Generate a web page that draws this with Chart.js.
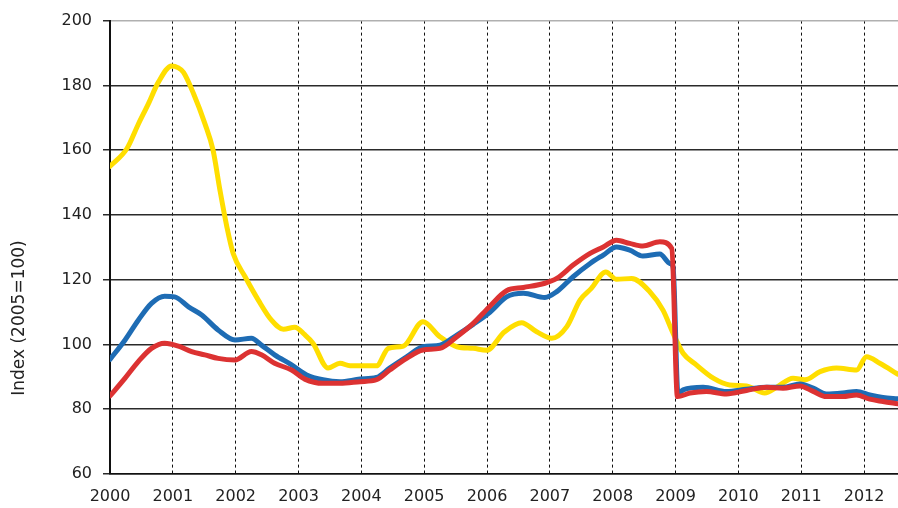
<!DOCTYPE html>
<html>
<head>
<meta charset="utf-8">
<script src="https://cdn.jsdelivr.net/npm/chart.js@4/dist/chart.umd.min.js"></script>
<style>
    body { margin: 0; background: #fff; }
    #wrap { width: 898px; height: 508px; position: relative; }
</style>
</head>
<body>
<div id="wrap"><canvas id="chart"></canvas></div>
<script>
// x tick labels (years) and y title
const yearTicks = [2000, 2001, 2002, 2003, 2004, 2005, 2006, 2007, 2008, 2009, 2010, 2011, 2012];
const axisTitle = 'Index (2005=100)';

// yellow series
const yellowYears = [2000.00, 2000.27, 2000.45, 2000.61, 2000.77, 2000.98, 2001.08, 2001.17, 2001.33, 2001.51,
    2001.64, 2001.75, 2001.86, 2001.96, 2002.15, 2002.36, 2002.57, 2002.76, 2002.94, 2003.10,
    2003.23, 2003.47, 2003.66, 2003.82, 2004.24, 2004.43, 2004.67, 2004.98, 2005.25, 2005.52,
    2005.78, 2005.99, 2006.28, 2006.55, 2006.79, 2007.03, 2007.27, 2007.48, 2007.66, 2007.89,
    2008.06, 2008.30, 2008.59, 2008.80, 2008.96, 2009.12, 2009.33, 2009.60, 2009.86, 2010.13,
    2010.42, 2010.61, 2010.87, 2011.06, 2011.30, 2011.56, 2011.88, 2012.04, 2012.25, 2012.54];
const yellowValues = [155, 160.5, 168, 174.3, 181, 186, 185.5, 184, 177.4, 168.2,
    160, 147.6, 136.3, 128.1, 120.9, 113.7, 107.5, 104.7, 105.3, 103,
    100.4, 92.7, 94.2, 93.4, 93.4, 98.8, 99.5, 107, 102.4, 99.3,
    98.8, 98.2, 103.9, 106.7, 103.9, 101.9, 105.5, 113.7, 117.3, 122.4,
    120.1, 120.4, 116.3, 110.6, 103.5, 97.3, 93.7, 89.6, 87.5, 87.2,
    85.0, 86.8, 89.6, 89.1, 91.6, 92.7, 92.1, 96.2, 94.2, 90.8];

// blue series
const blueYears = [2000.00, 2000.24, 2000.45, 2000.66, 2000.87, 2001.03, 2001.25, 2001.46, 2001.72, 2001.99,
    2002.25, 2002.41, 2002.62, 2002.89, 2003.13, 2003.39, 2003.66, 2003.98, 2004.24, 2004.45,
    2004.72, 2004.98, 2005.25, 2005.52, 2005.78, 2006.05, 2006.31, 2006.58, 2006.92, 2007.11,
    2007.37, 2007.64, 2007.85, 2008.06, 2008.27, 2008.48, 2008.75, 2008.91, 2008.96, 2009.04,
    2009.12, 2009.44, 2009.81, 2010.13, 2010.45, 2010.71, 2010.98, 2011.19, 2011.40, 2011.66,
    2011.88, 2012.09, 2012.30, 2012.54];
const blueValues = [95.4, 101.4, 107.5, 112.7, 114.9, 114.7, 111.6, 109.1, 104.5, 101.4,
    101.9, 99.8, 96.8, 93.7, 90.6, 89.1, 88.5, 89.3, 89.8, 92.7,
    96.2, 99.3, 99.8, 102.9, 106.2, 110, 114.7, 115.8, 114.5, 116.3,
    120.9, 125, 127.6, 130.1, 129.1, 127.3, 127.9, 125, 124, 84.5,
    86, 86.8, 85.5, 86.2, 86.8, 86.8, 87.8, 86.5, 84.7, 85.0,
    85.5, 84.4, 83.6, 83.2];

// red series
const redYears = [2000.00, 2000.24, 2000.45, 2000.66, 2000.87, 2001.09, 2001.30, 2001.51, 2001.72, 2001.99,
    2002.25, 2002.41, 2002.62, 2002.89, 2003.10, 2003.39, 2003.66, 2003.98, 2004.24, 2004.45,
    2004.72, 2004.98, 2005.25, 2005.52, 2005.78, 2006.03, 2006.31, 2006.58, 2006.92, 2007.11,
    2007.37, 2007.64, 2007.85, 2008.06, 2008.27, 2008.48, 2008.75, 2008.94, 2009.03, 2009.23,
    2009.49, 2009.81, 2010.13, 2010.45, 2010.71, 2010.98, 2011.19, 2011.40, 2011.66, 2011.88,
    2012.09, 2012.30, 2012.54];
const redValues = [84.1, 89.6, 94.7, 98.8, 100.4, 99.5, 97.8, 96.8, 95.7, 95.2,
    97.8, 96.8, 94.2, 92.1, 89.3, 88.0, 88.0, 88.5, 89.1, 92.1,
    95.7, 98.3, 98.8, 102.4, 106.5, 111.5, 116.6, 117.6, 118.9, 120.4,
    124.5, 128.1, 130.1, 132.2, 131.2, 130.4, 131.7, 129.6, 83.9, 85,
    85.5, 84.7, 85.8, 86.8, 86.5, 87.2, 85.5, 83.9, 83.9, 84.4,
    83.1, 82.4, 81.7];

function toPoints(xs, ys) {
    return xs.map((x, i) => ({x: x, y: ys[i]}));
}

function lineSet(xs, ys, color) {
    return {
        data: toPoints(xs, ys),
        borderColor: color,
        borderWidth: 5,
        pointRadius: 0,
        cubicInterpolationMode: 'monotone',
        borderJoinStyle: 'round',
        borderCapStyle: 'round'
    };
}

// draws the rotated y title a bit below the middle, like the original
const yTitlePlugin = {
    id: 'yTitle',
    afterDraw(chart) {
        const ctx = chart.ctx;
        ctx.save();
        ctx.translate(20, 318);
        ctx.rotate(-Math.PI / 2);
        ctx.font = '17px "DejaVu Sans"';
        ctx.fillStyle = '#222';
        ctx.textAlign = 'center';
        ctx.textBaseline = 'middle';
        ctx.fillText(axisTitle, 0, 0);
        ctx.restore();
    }
};

const tickFont = {family: '"DejaVu Sans", sans-serif', size: 16};

const config = {
    type: 'line',
    data: {
        datasets: [
            lineSet(redYears, redValues, 'rgb(220, 50, 50)'),
            lineSet(blueYears, blueValues, 'rgb(30, 108, 180)'),
            lineSet(yellowYears, yellowValues, 'rgb(255, 222, 0)')
        ]
    },
    options: {
        responsive: true,
        maintainAspectRatio: false,
        animation: false,
        layout: {padding: {top: 20, left: 0, right: 0, bottom: 0}},
        plugins: {
            legend: {display: false},
            tooltip: {enabled: false}
        },
        scales: {
            x: {
                type: 'linear',
                min: 2000,
                max: 2012.54,
                afterBuildTicks: s => { s.ticks = yearTicks.map(v => ({value: v})); },
                afterFit: s => { s.height = 34; },
                ticks: {
                    font: tickFont,
                    color: '#222',
                    padding: 13,
                    maxRotation: 0,
                    autoSkip: false,
                    callback: v => String(v)
                },
                grid: {color: '#111', lineWidth: 1, drawTicks: false},
                border: {color: '#111', width: 1.5, dash: [3, 3]}
            },
            y: {
                min: 60,
                max: 200,
                afterFit: s => { s.width = 110; },
                ticks: {
                    stepSize: 20,
                    font: tickFont,
                    color: '#222',
                    padding: 11
                },
                grid: {
                    color: c => (c.tick && c.tick.value === 200) ? '#b0b0b0' : '#2a2a2a',
                    tickColor: '#2a2a2a',
                    lineWidth: 1.5,
                    tickLength: 7
                },
                border: {color: '#111', width: 2}
            }
        }
    },
    plugins: [yTitlePlugin]
};

let ctx = document.getElementById('chart').getContext('2d');
new Chart(ctx, config);
</script>
</body>
</html>
